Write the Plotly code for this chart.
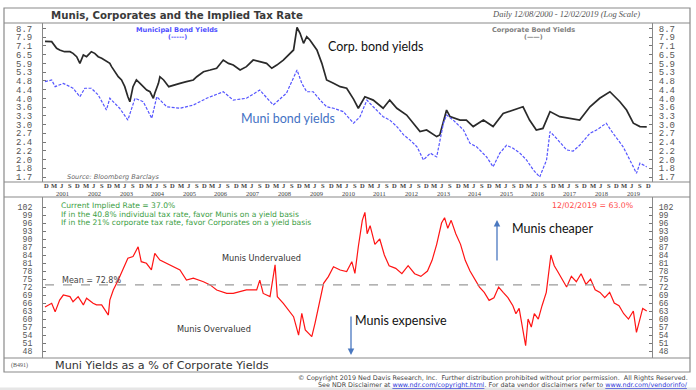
import numpy as np
import plotly.graph_objects as go

# ---------------- data ----------------
corp_t = [2000.94, 2001.15, 2001.31, 2001.41, 2001.56, 2001.73, 2001.83, 2001.94, 2002.04, 2002.15,
          2002.25, 2002.41, 2002.51, 2002.62, 2002.73, 2002.88, 2002.99, 2003.04, 2003.15, 2003.25,
          2003.36, 2003.46, 2003.56, 2003.62, 2003.72, 2003.83, 2003.94, 2004.04, 2004.15, 2004.25,
          2004.36, 2004.41, 2004.52, 2004.57, 2004.68, 2004.84, 2004.99, 2005.20, 2005.41, 2005.62,
          2005.73, 2005.94, 2006.15, 2006.36, 2006.57, 2006.73, 2006.88, 2007.09, 2007.30, 2007.51,
          2007.72, 2007.93, 2008.09, 2008.25, 2008.46, 2008.62, 2008.78, 2008.89, 2008.99, 2009.09,
          2009.20, 2009.30, 2009.52, 2009.67, 2009.83, 2010.04, 2010.25, 2010.46, 2010.67, 2010.83,
          2011.03, 2011.30, 2011.61, 2011.82, 2012.04, 2012.35, 2012.77, 2012.98, 2013.30, 2013.40,
          2013.61, 2013.72, 2014.03, 2014.24, 2014.45, 2014.77, 2015.08, 2015.40, 2015.71, 2016.02,
          2016.23, 2016.44, 2016.65, 2016.87, 2017.18, 2017.50, 2017.81, 2018.13, 2018.44, 2018.76,
          2019.08, 2019.29, 2019.50, 2019.71, 2019.92]
corp_yield = [7.55, 7.53, 7.00, 6.87, 6.74, 6.74, 6.62, 6.38, 5.93, 6.50,
              6.38, 6.74, 6.62, 6.38, 6.27, 6.04, 5.93, 5.72, 5.41, 5.12,
              4.94, 4.59, 4.11, 3.89, 4.59, 4.94, 4.76, 4.59, 4.42, 4.34,
              4.04, 4.27, 4.76, 5.12, 4.94, 4.59, 4.67, 4.76, 4.85, 4.94,
              5.12, 5.41, 5.51, 5.62, 6.15, 5.93, 5.82, 5.51, 5.72, 6.15,
              6.04, 5.93, 5.62, 5.82, 6.15, 6.50, 6.87, 8.80, 8.25, 7.39,
              7.95, 7.67, 6.87, 5.93, 4.94, 4.76, 4.59, 4.51, 4.00, 3.62,
              4.11, 3.96, 3.62, 3.96, 3.62, 3.36, 2.80, 2.85, 2.65, 2.70,
              3.55, 3.30, 3.18, 3.18, 2.96, 3.18, 2.96, 3.42, 3.55, 3.68,
              3.18, 2.85, 2.90, 3.49, 3.30, 3.24, 3.18, 3.68, 4.04, 4.34,
              3.89, 3.55, 3.07, 2.96, 2.95]

muni_t = [2000.94, 2001.15, 2001.26, 2001.52, 2001.83, 2002.04, 2002.20, 2002.41, 2002.62, 2002.88,
          2002.99, 2003.30, 2003.56, 2003.78, 2004.04, 2004.31, 2004.47, 2004.78, 2005.20, 2005.62,
          2006.04, 2006.57, 2006.88, 2007.30, 2007.72, 2008.14, 2008.56, 2008.89, 2009.04, 2009.20,
          2009.41, 2009.62, 2009.83, 2010.04, 2010.35, 2010.67, 2010.88, 2011.09, 2011.30, 2011.61,
          2011.82, 2012.04, 2012.25, 2012.46, 2012.67, 2012.88, 2013.09, 2013.30, 2013.51, 2013.61,
          2013.82, 2014.14, 2014.35, 2014.56, 2014.87, 2015.08, 2015.29, 2015.50, 2015.71, 2015.92,
          2016.13, 2016.34, 2016.55, 2016.76, 2016.87, 2017.08, 2017.40, 2017.60, 2017.81, 2018.13,
          2018.34, 2018.65, 2018.86, 2019.18, 2019.50, 2019.60, 2019.71, 2019.92]
muni_yield = [4.85, 4.94, 4.59, 4.76, 4.51, 4.11, 4.51, 4.51, 4.19, 3.55,
              4.04, 3.62, 3.18, 4.04, 3.89, 3.24, 4.11, 3.68, 3.62, 3.75,
              4.04, 4.34, 3.96, 4.04, 4.42, 3.75, 4.27, 5.51, 4.76, 4.34,
              4.34, 3.96, 3.68, 3.62, 3.49, 3.07, 3.30, 3.96, 3.68, 3.30,
              3.18, 2.96, 2.70, 2.55, 2.37, 2.05, 2.21, 2.12, 3.07, 3.36,
              3.18, 2.85, 2.46, 2.37, 2.12, 1.90, 2.21, 2.41, 2.33, 2.21,
              2.05, 1.84, 1.70, 2.05, 2.80, 2.60, 2.29, 2.26, 2.41, 2.75,
              2.85, 3.07, 2.75, 2.37, 1.90, 1.77, 1.98, 1.90]

ratio_t = [2000.94, 2001.15, 2001.26, 2001.41, 2001.52, 2001.73, 2001.83, 2001.99, 2002.15, 2002.25,
           2002.46, 2002.57, 2002.73, 2002.83, 2002.94, 2002.99, 2003.09, 2003.25, 2003.41, 2003.56,
           2003.72, 2003.88, 2003.98, 2004.14, 2004.30, 2004.41, 2004.57, 2004.78, 2004.99, 2005.20,
           2005.41, 2005.62, 2005.94, 2006.15, 2006.36, 2006.67, 2006.88, 2007.30, 2007.62, 2007.72,
           2007.83, 2008.04, 2008.20, 2008.27, 2008.46, 2008.78, 2008.94, 2009.04, 2009.15, 2009.36,
           2009.46, 2009.62, 2009.73, 2009.88, 2010.04, 2010.25, 2010.46, 2010.62, 2010.72, 2010.83,
           2010.95, 2011.03, 2011.10, 2011.20, 2011.35, 2011.50, 2011.65, 2011.80, 2012.00, 2012.20,
           2012.40, 2012.60, 2012.80, 2013.00, 2013.15, 2013.30, 2013.45, 2013.55, 2013.65, 2013.75,
           2013.90, 2014.05, 2014.20, 2014.35, 2014.50, 2014.65, 2014.80, 2014.95, 2015.10, 2015.25,
           2015.40, 2015.55, 2015.70, 2015.80, 2015.90, 2016.00, 2016.10, 2016.18, 2016.28, 2016.38,
           2016.50, 2016.62, 2016.75, 2016.90, 2017.00, 2017.10, 2017.25, 2017.40, 2017.55, 2017.70,
           2017.85, 2018.00, 2018.15, 2018.30, 2018.45, 2018.60, 2018.75, 2018.90, 2019.05, 2019.20,
           2019.35, 2019.50, 2019.60, 2019.70, 2019.80, 2019.92]
ratio_pct = [64.5, 65.9, 62.7, 67.1, 69.0, 68.4, 66.5, 68.4, 65.3, 67.8,
             65.9, 65.3, 65.3, 63.4, 61.5, 67.1, 70.9, 74.6, 79.0, 82.8,
             83.4, 87.1, 81.5, 80.9, 78.4, 84.6, 82.1, 80.9, 79.6, 78.4,
             74.6, 75.3, 74.0, 72.8, 70.9, 69.6, 69.6, 70.9, 70.9, 74.6,
             69.6, 68.4, 80.3, 68.4, 65.9, 60.9, 54.0, 62.1, 55.9, 53.4,
             58.4, 67.1, 73.4, 75.9, 79.6, 78.4, 77.8, 81.5, 77.1, 87.1,
             97.0, 100.0, 92.0, 95.0, 88.0, 90.0, 84.0, 80.0, 79.0, 77.0,
             80.0, 77.0, 76.0, 78.0, 82.0, 88.0, 96.0, 98.0, 94.0, 97.0,
             92.0, 88.0, 82.0, 78.0, 75.0, 72.0, 70.0, 67.0, 68.0, 72.0,
             70.0, 68.0, 65.0, 62.0, 64.0, 57.0, 50.0, 60.0, 57.0, 62.0,
             60.0, 65.0, 70.0, 84.0, 80.0, 78.0, 75.0, 72.0, 76.0, 74.0,
             77.0, 73.0, 75.0, 71.0, 70.0, 68.0, 70.0, 66.0, 65.0, 62.0,
             60.0, 63.0, 55.0, 60.0, 64.0, 63.0]

mean_ratio = 72.8
current_ratio = 63.0

top_tick_text = ["1.7", "1.8", "2.0", "2.2", "2.4", "2.7", "3.0", "3.3", "3.6", "4.0",
                 "4.4", "4.8", "5.3", "5.9", "6.5", "7.1", "7.9", "8.7"]
bottom_ticks = [48, 51, 54, 57, 60, 63, 66, 69, 72, 75, 78, 81, 84, 87, 90, 93, 96, 99, 102]
years = list(range(2001, 2020))
quarter_letters = ["M", "J", "S", "D"]
quarter_months = [3, 6, 9, 12]


def yr2date(t):
    y = int(t)
    m = (t - y) * 12
    mi = int(m)
    d = int((m - mi) * 28) + 1
    return f"{y}-{mi + 1:02d}-{d:02d}"


corp_dates = [yr2date(t) for t in corp_t]
muni_dates = [yr2date(t) for t in muni_t]
ratio_dates = [yr2date(t) for t in ratio_t]

# ---------------- geometry helpers (pixels -> paper) ----------------
W, H = 696, 390
L, R, T, B = 43, 652, 23, 358


def PX(x):
    return (x - L) / (R - L)


def PY(y):
    return (B - y) / (B - T)


top_dom = [PY(182), 1.0]
bot_dom = [0.0, PY(197)]

top_tickvals = list(np.geomspace(1.7, 8.7, len(top_tick_text)))
lo, hi = np.log10(1.7), np.log10(8.7)
per_px = (hi - lo) / 148.5
top_range = [lo - 5 * per_px, hi + 5.5 * per_px]
bot_range = [45.4, 105.75]

x_range = ["2000-11-15", "2020-02-01"]

fig = go.Figure()
fig.add_trace(go.Scatter(x=corp_dates, y=corp_yield, mode="lines", name="Corporate Bond Yields",
                         line=dict(color="#2a2a2a", width=1.7), xaxis="x", yaxis="y"))
fig.add_trace(go.Scatter(x=muni_dates, y=muni_yield, mode="lines", name="Municipal Bond Yields",
                         line=dict(color="#5555ff", width=1.2, dash="3px,1.5px"), xaxis="x", yaxis="y"))
fig.add_trace(go.Scatter(x=ratio_dates, y=ratio_pct, mode="lines", name="Muni/Corp %",
                         line=dict(color="#ff1414", width=1.2), xaxis="x2", yaxis="y2"))
# empty traces so the right-hand axes are drawn
fig.add_trace(go.Scatter(x=[None], y=[None], xaxis="x", yaxis="y3", hoverinfo="skip"))
fig.add_trace(go.Scatter(x=[None], y=[None], xaxis="x2", yaxis="y4", hoverinfo="skip"))

mono_top = dict(family="Liberation Mono", size=9, color="#555")
mono_bot = dict(family="Liberation Mono", size=8.2, color="#555")
yax_common = dict(showgrid=False, zeroline=False, ticks="inside", ticklen=3, tickwidth=1,
                  tickcolor="#777", showline=True, linecolor="#888", linewidth=1)

fig.update_layout(
    width=W, height=H,
    margin=dict(l=L, r=W - R, t=T, b=H - B),
    paper_bgcolor="white", plot_bgcolor="white",
    showlegend=False,
    xaxis=dict(domain=[0, 1], anchor="y", type="date", range=x_range, showgrid=False, zeroline=False,
               showline=False, ticks="", showticklabels=False),
    xaxis2=dict(domain=[0, 1], anchor="y2", type="date", range=x_range, matches="x", showgrid=False,
                zeroline=False, showline=False, showticklabels=False, ticks=""),
    yaxis=dict(domain=top_dom, anchor="x", type="log", range=top_range, tickvals=top_tickvals,
               ticktext=top_tick_text, side="left", ticklabelstandoff=8, tickfont=mono_top, **yax_common),
    yaxis3=dict(domain=top_dom, anchor="x", overlaying="y", type="log", range=top_range,
                tickvals=top_tickvals, ticktext=top_tick_text, side="right",
                ticklabelstandoff=4, tickfont=mono_top, **yax_common),
    yaxis2=dict(domain=bot_dom, anchor="x2", range=bot_range, tickvals=bottom_ticks,
                ticktext=[str(v) for v in bottom_ticks], side="left", ticklabelstandoff=8,
                tickfont=mono_bot, **yax_common),
    yaxis4=dict(domain=bot_dom, anchor="x2", overlaying="y2", range=bot_range, tickvals=bottom_ticks,
                ticktext=[str(v) for v in bottom_ticks], side="right", ticklabelstandoff=4,
                tickfont=mono_bot, **yax_common),
)

# ---------------- frame lines ----------------
frame = "#8a8a8a"
shapes = [
    dict(type="rect", xref="paper", yref="paper", x0=PX(4), x1=PX(690), y0=PY(372), y1=PY(8),
         line=dict(color=frame, width=1.2)),
]
for yy in [23, 182, 197, 358]:
    shapes.append(dict(type="line", xref="paper", yref="paper", x0=PX(4), x1=PX(690), y0=PY(yy), y1=PY(yy),
                       line=dict(color=frame, width=1.2)))
shapes.append(dict(type="line", xref="x2", yref="y2", x0=ratio_dates[0], x1=ratio_dates[-1],
                   y0=mean_ratio, y1=mean_ratio, line=dict(color="#9a9a9a", width=1.2, dash="dash")))
shapes.append(dict(type="rect", xref="paper", yref="paper", x0=PX(0), x1=PX(696), y0=PY(390), y1=PY(387.5),
                   line=dict(width=0), fillcolor="#e6e6e6"))
fig.update_layout(shapes=shapes)

# ---------------- text ----------------
ann = []
NDR = "DejaVu Sans"


def txt(text, x, y, size, color="#333", family=NDR, xanchor="left", **kw):
    ann.append(dict(text=text, x=PX(x), y=PY(y), xref="paper", yref="paper", showarrow=False,
                    xanchor=xanchor, yanchor="middle", font=dict(size=size, color=color, family=family), **kw))


txt("<b>Munis, Corporates and the Implied Tax Rate</b>", 177, 15.5, 10.2, "#3a3a3a", xanchor="center")
txt("<i>Daily 12/08/2000 - 12/02/2019 (Log Scale)</i>", 566, 14, 8.5, "#555", family="Liberation Serif",
    xanchor="center")
txt("<b>Municipal Bond Yields</b>", 177, 29.5, 6.6, "#5050ff", xanchor="center")
txt("<b>(-----)</b>", 177, 37, 6.4, "#5050ff", xanchor="center")
txt("<b>Corporate Bond Yields</b>", 533, 29.5, 6.6, "#808080", xanchor="center")
txt("<b>(——)</b>", 533, 37, 6.4, "#808080", xanchor="center")
txt("Corp. bond yields", 326, 47, 12.5, "#111", family="Lato")
txt("Muni bond yields", 239, 118, 12.5, "#4472c4", family="Lato")
txt("<i>Source: Bloomberg Barclays</i>", 65, 177, 6.5, "#666")

# quarter letters and year labels in the band between the panels
serif_band = dict(size=6.5, color="#444", family="Liberation Serif")
for yv in range(2000, 2020):
    for let, mo in zip(quarter_letters, quarter_months):
        d = f"{yv}-{mo:02d}-20"
        if d < x_range[0] or d > x_range[1]:
            continue
        ann.append(dict(text=f"<b>{let}</b>", x=d, y=PY(185.9), xref="x", yref="paper", showarrow=False,
                        xanchor="center", yanchor="middle", font=serif_band))
for yv in years:
    ann.append(dict(text=str(yv), x=f"{yv}-07-01", y=PY(193.6), xref="x", yref="paper", showarrow=False,
                    xanchor="center", yanchor="middle", font=serif_band))

green = "#3b9e44"
txt("Current Implied Rate = 37.0%", 59, 205.8, 7.6, green)
txt("If in the 40.8% individual tax rate, favor Munis on a yield basis", 59, 214.4, 7.6, green)
txt("If in the 21% corporate tax rate, favor Corporates on a yield basis", 59, 223, 7.6, green)
txt(f"12/02/2019 = {current_ratio:.1f}%", 635, 205, 7.8, "#ff4a4a", xanchor="right")
txt(f"Mean = {mean_ratio}%", 60, 280, 8, "#444")
txt("Munis Undervalued", 220, 258, 8.2, "#333")
txt("Munis Overvalued", 175, 329, 8.2, "#333")
txt("Munis expensive", 353, 320, 12.5, "#111", family="Lato")
txt("Munis cheaper", 510, 228, 12.5, "#111", family="Lato")
txt("(B491)", 9, 365, 6, "#555", family="Liberation Serif")
txt("Muni Yields as a % of Corporate Yields", 53, 365, 11.2, "#333")
txt("© Copyright 2019 Ned Davis Research, Inc.  Further distribution prohibited without prior permission.  All Rights Reserved.",
    690, 377.8, 6.4, "#444", xanchor="right")
txt("See NDR Disclaimer at <span style='color:#2a35d8'><u>www.ndr.com/copyright.html</u></span>. "
    "For data vendor disclaimers refer to <span style='color:#2a35d8'><u>www.ndr.com/vendorinfo/</u></span>",
    690, 384.5, 6.4, "#444", xanchor="right")

ann.append(dict(text="", x=PX(351), y=PY(355), xref="paper", yref="paper", ax=0, ay=-40,
                showarrow=True, arrowhead=2, arrowsize=1, arrowwidth=1.3, arrowcolor="#4a78c0"))
ann.append(dict(text="", x=PX(497), y=PY(220), xref="paper", yref="paper", ax=0, ay=42,
                showarrow=True, arrowhead=2, arrowsize=1, arrowwidth=1.3, arrowcolor="#4a78c0"))

fig.update_layout(annotations=ann)

fig.write_html("out.html", config={"displayModeBar": False},
               post_script="document.body.style.margin='0';document.body.style.padding='0';")
